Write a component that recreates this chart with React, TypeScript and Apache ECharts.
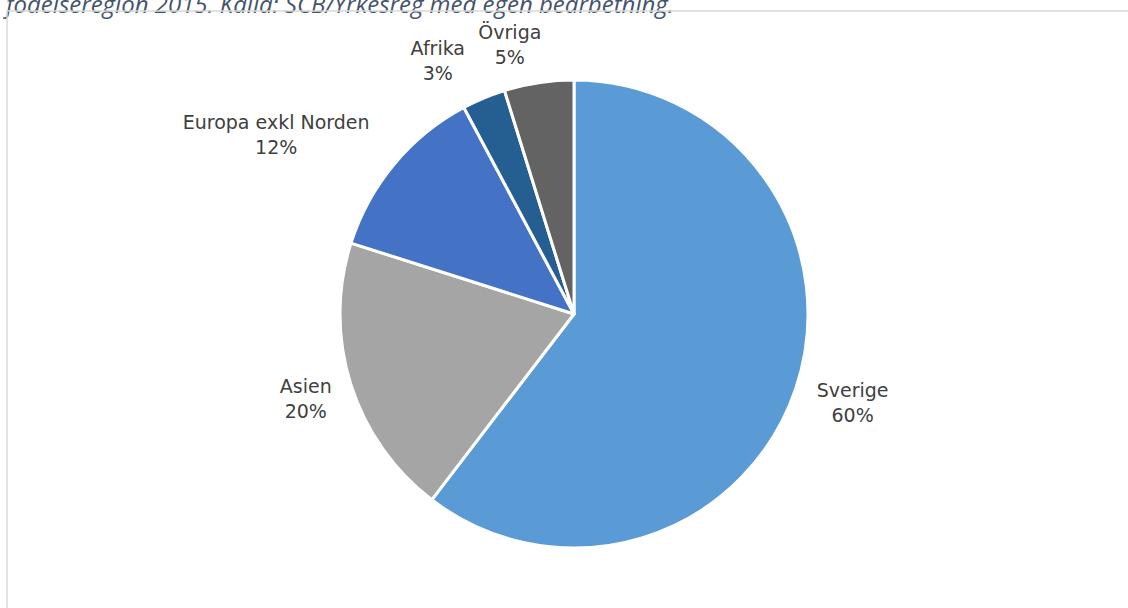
import React, { useEffect, useRef } from "react";
import * as echarts from "echarts";

const categories = ["Sverige", "Asien", "Europa exkl Norden", "Afrika", "Övriga"];
const values = [60.4, 19.5, 12.3, 3.0, 4.8];
const colors = ["#5B9BD5", "#A5A5A5", "#4472C4", "#255E91", "#636363"];
const titleText = "födelseregion 2015. Källa: SCB/Yrkesreg med egen bearbetning.";
// label nudges from the slice's outer edge at its mid-angle (styling)
const labelNudges: [number, number][] = [
  [57, 13],
  [-45, 14],
  [-118, -30],
  [-46, -38],
  [-29, -38],
];

const CX = 574;
const CY = 314;
const R = 234;

export default function App() {
  const ref = useRef<HTMLDivElement>(null);
  useEffect(() => {
    if (!ref.current) return;
    const chart = echarts.init(ref.current, undefined, { renderer: "svg" });
    const total = values.reduce((a, b) => a + b, 0);
    const mids: number[] = [];
    let acc = 0;
    values.forEach((v) => {
      mids.push(((acc + v / 2) / total) * Math.PI * 2);
      acc += v;
    });
    chart.setOption({
      animation: false,
      backgroundColor: "#ffffff",
      graphic: [
        {
          type: "text",
          x: 6,
          y: 15,
          style: {
            text: titleText,
            font: "italic 24px 'Open Sans'",
            fill: "#44546A",
            verticalAlign: "bottom",
          },
          silent: true,
        },
        {
          type: "rect",
          shape: { x: 7, y: 11, width: 1300, height: 800 },
          style: { fill: "none", stroke: "#D9D9D9", lineWidth: 1.5 },
          silent: true,
        },
      ],
      series: [
        {
          type: "pie",
          center: [CX, CY],
          radius: R,
          startAngle: 90,
          clockwise: true,
          data: categories.map((c, i) => ({
            name: c,
            value: values[i],
            itemStyle: { color: colors[i] },
          })),
          itemStyle: { borderColor: "#ffffff", borderWidth: 3 },
          label: {
            show: true,
            position: "outside",
            formatter: (p: any) => `${p.name}\n${Math.round(p.percent)}%`,
            fontFamily: "'DejaVu Sans'",
            fontSize: 19,
            lineHeight: 25,
            color: "#404040",
            align: "center",
          },
          labelLine: { show: false },
          labelLayout: (params: any) => {
            const i = params.dataIndex;
            const a = mids[i];
            const ex = CX + R * Math.sin(a);
            const ey = CY - R * Math.cos(a);
            return {
              x: ex + labelNudges[i][0],
              y: ey + labelNudges[i][1],
              align: "center",
              verticalAlign: "middle",
            };
          },
          emphasis: { disabled: true },
        },
      ],
    });
    return () => chart.dispose();
  }, []);
  return (
    <div
      ref={ref}
      style={{ position: "fixed", left: 0, top: 0, width: 1128, height: 608 }}
    />
  );
}
